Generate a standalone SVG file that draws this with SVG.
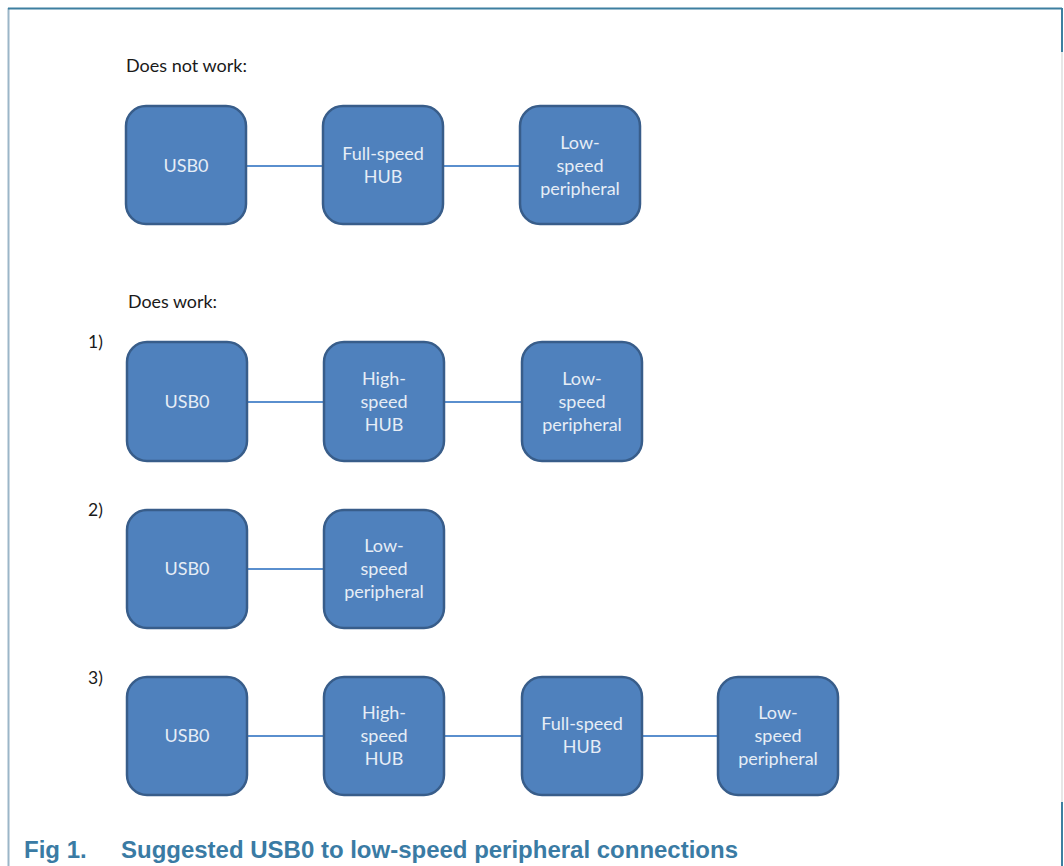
<svg xmlns="http://www.w3.org/2000/svg" width="1064" height="866" viewBox="0 0 1064 866">
<style>
.frame{fill:none;stroke:#3d7fa0;stroke-width:2}
.lbl{font-family:Lato,"Open Sans",sans-serif;font-size:17.5px;fill:#1a1a1a}
.box{fill:#4f81bd;stroke:#385d8a;stroke-width:2.5}
.t{font-family:Lato,"Open Sans",sans-serif;font-size:18px;fill:#e6edf6;text-anchor:middle}
.con{stroke:#5a8fce;stroke-width:2;fill:none}
.cap{font-family:"Liberation Sans",Arial,sans-serif;font-weight:bold;font-size:24px;fill:#3a7ba4}
</style>
<rect width="1064" height="866" fill="#ffffff"/>
<g id="frame">
<line x1="8.5" y1="8" x2="8.5" y2="866" stroke="#9bb6c8" stroke-width="2"/>
<line x1="8" y1="8.5" x2="1062" y2="8.5" class="frame"/>
<line x1="1062" y1="8" x2="1062" y2="52" class="frame"/>
<line x1="1062" y1="52" x2="1062" y2="802" stroke="#e6e6e6" stroke-width="2"/>
<line x1="1062" y1="802" x2="1062" y2="866" class="frame"/>
</g>
<g id="labels">
<text class="lbl" x="126" y="72" textLength="121" lengthAdjust="spacingAndGlyphs">Does not work:</text>
<text class="lbl" x="128" y="308" textLength="89" lengthAdjust="spacingAndGlyphs">Does work:</text>
<text class="lbl" x="88" y="348">1)</text>
<text class="lbl" x="88" y="516">2)</text>
<text class="lbl" x="88" y="684">3)</text>
</g>
<g id="connectors">
<line class="con" x1="246" y1="166" x2="323" y2="166"/>
<line class="con" x1="443" y1="166" x2="520" y2="166"/>
<line class="con" x1="247" y1="402" x2="324" y2="402"/>
<line class="con" x1="444" y1="402" x2="522" y2="402"/>
<line class="con" x1="247" y1="569" x2="324" y2="569"/>
<line class="con" x1="247" y1="736" x2="324" y2="736"/>
<line class="con" x1="444" y1="736" x2="522" y2="736"/>
<line class="con" x1="642" y1="736" x2="718" y2="736"/>
</g>
<g id="n0-usb0"><rect class="box" x="126" y="106" width="120" height="118" rx="20"/><text class="t" x="186" y="172">USB0</text></g>
<g id="n0-fshub"><rect class="box" x="323" y="106" width="120" height="118" rx="20"/><text class="t" x="383" y="160">Full-speed</text><text class="t" x="383" y="183">HUB</text></g>
<g id="n0-ls"><rect class="box" x="520" y="106" width="120" height="118" rx="20"/><text class="t" x="580" y="149">Low-</text><text class="t" x="580" y="172">speed</text><text class="t" x="580" y="195">peripheral</text></g>

<g id="n1-usb0"><rect class="box" x="127" y="342" width="120" height="119" rx="20"/><text class="t" x="187" y="408">USB0</text></g>
<g id="n1-hshub"><rect class="box" x="324" y="342" width="120" height="119" rx="20"/><text class="t" x="384" y="385">High-</text><text class="t" x="384" y="408">speed</text><text class="t" x="384" y="431">HUB</text></g>
<g id="n1-ls"><rect class="box" x="522" y="342" width="120" height="119" rx="20"/><text class="t" x="582" y="385">Low-</text><text class="t" x="582" y="408">speed</text><text class="t" x="582" y="431">peripheral</text></g>

<g id="n2-usb0"><rect class="box" x="127" y="510" width="120" height="118" rx="20"/><text class="t" x="187" y="575">USB0</text></g>
<g id="n2-ls"><rect class="box" x="324" y="510" width="120" height="118" rx="20"/><text class="t" x="384" y="552">Low-</text><text class="t" x="384" y="575">speed</text><text class="t" x="384" y="598">peripheral</text></g>

<g id="n3-usb0"><rect class="box" x="127" y="677" width="120" height="118" rx="20"/><text class="t" x="187" y="742">USB0</text></g>
<g id="n3-hshub"><rect class="box" x="324" y="677" width="120" height="118" rx="20"/><text class="t" x="384" y="719">High-</text><text class="t" x="384" y="742">speed</text><text class="t" x="384" y="765">HUB</text></g>
<g id="n3-fshub"><rect class="box" x="522" y="677" width="120" height="118" rx="20"/><text class="t" x="582" y="730">Full-speed</text><text class="t" x="582" y="753">HUB</text></g>
<g id="n3-ls"><rect class="box" x="718" y="677" width="120" height="118" rx="20"/><text class="t" x="778" y="719">Low-</text><text class="t" x="778" y="742">speed</text><text class="t" x="778" y="765">peripheral</text></g>

<g id="caption">
<text class="cap" x="24" y="858">Fig 1.</text>
<text class="cap" x="121" y="858" textLength="617" lengthAdjust="spacingAndGlyphs">Suggested USB0 to low-speed peripheral connections</text>
</g>
</svg>
